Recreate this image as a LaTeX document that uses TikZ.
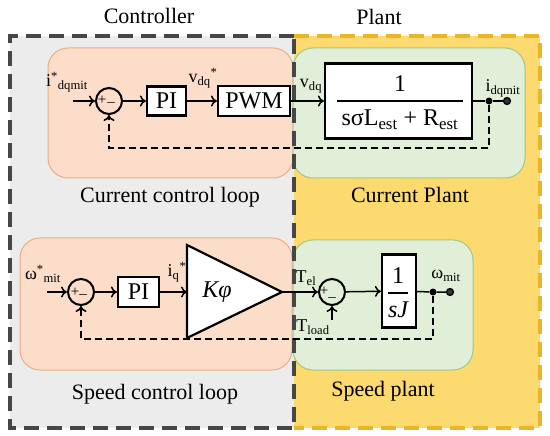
\documentclass[tikz,border=0pt]{standalone}
\usepackage{fontspec}
\setmainfont{Liberation Serif}
\usetikzlibrary{arrows.meta}
\definecolor{gbg}{RGB}{236,236,236}
\definecolor{gbd}{RGB}{70,70,70}
\definecolor{ybg}{RGB}{252,218,112}
\definecolor{ybd}{RGB}{232,182,40}
\definecolor{orbg}{RGB}{251,221,202}
\definecolor{orbd}{RGB}{236,172,132}
\definecolor{grbg}{RGB}{226,239,216}
\definecolor{grbd}{RGB}{160,200,128}
\begin{document}
\begin{tikzpicture}[x=1pt,y=-1pt,
  blk/.style={draw=black, line width=2.2pt, fill=white, inner sep=0pt},
  sumj/.style={draw=black, circle, line width=2pt, minimum size=26pt, inner sep=0pt},
  con/.style={line width=1.5pt, -{To[length=6pt,width=11pt]}},
  wire/.style={line width=1.5pt},
  fb/.style={line width=1.6pt, dash pattern=on 7pt off 4pt},
  regb/.style={line width=3.4pt, dash pattern=on 15pt off 8pt},
  big/.style={font=\fontsize{22}{26}\selectfont},
  box/.style={font=\fontsize{24}{28}\selectfont},
  sml/.style={font=\fontsize{18}{20}\selectfont, inner sep=0pt},
  sgn/.style={font=\fontsize{15}{15}\selectfont, inner sep=0pt},
  dot/.style={circle, fill=black, inner sep=0pt, minimum size=7pt},
  term/.style={circle, draw=black, fill=black!80, line width=1.2pt, inner sep=0pt, minimum size=7pt},
  loop/.style={rounded corners=20pt, line width=1pt}]
\useasboundingbox (0,0) rectangle (550,436);
% regions
\fill[ybg] (294,36) rectangle (540,428);
\fill[gbg] (10,36) rectangle (294,428);
\draw[ybd, regb] (294,36) -- (540,36) -- (540,428) -- (294,428);
% loop boxes
\draw[orbd, fill=orbg, loop] (48,48) rectangle (293,178);
\draw[grbd, fill=grbg, loop] (293,48) rectangle (525,178);
\draw[orbd, fill=orbg, loop] (20,238) rectangle (292,370);
\draw[grbd, fill=grbg, loop] (293,240) rectangle (473,370);
\draw[gbd, regb] (294,36) -- (10,36) -- (10,428) -- (294,428) -- cycle;
% titles
\node[big] (tctrl) at (149,16) {Controller};
\node[big] (tplant) at (379,17) {Plant};
\node[big] (tccl) at (170,197) {Current control loop};
\node[big] (tcp) at (410,195) {Current Plant};
\node[big] (tscl) at (155,394) {Speed control loop};
\node[big] (tsp) at (383,391) {Speed plant};
% ---- current loop ----
\coordinate (in1) at (73,101);
\node[sumj] (s1) at (109,101) {};
\node[sgn] (p1) at (102,100) {+};
\node[sgn] (m1) at (111,105) {–};
\node[blk, box, minimum width=39pt, minimum height=29pt] (pi1) at (166.5,101) {PI};
\node[blk, box, minimum width=72pt, minimum height=30pt] (pwm) at (254,101) {PWM};
\node[blk, minimum width=147pt, minimum height=75pt] (tf) at (398.5,101) {};
\node[box, inner sep=0pt] (num1) at (400,84) {1};
\draw[line width=2pt] (337,101) -- (463,101);
\node[box, inner sep=0pt] (den1) at (400,120) {sσL\textsubscript{est} + R\textsubscript{est}};
\node[dot] (d1) at (489,101) {};
\node[term] (t1) at (507,101) {};
\draw[con] (in1) -- (s1);
\draw[con] (s1) -- (pi1);
\draw[con] (pi1) -- (pwm);
\draw[con] (pwm) -- (tf);
\draw[wire] (tf) -- (d1) -- (t1);
\coordinate (f1a) at (489,148);
\coordinate (f1b) at (109,148);
\draw[fb, -{To[length=6pt,width=11pt]}] (d1) -- (f1a) -- (f1b) -- (s1);
\node[sml] (li1) at (67,82) {i\textsuperscript{*}\textsubscript{dqmit}};
\node[sml] (lv1) at (203,78) {v\textsubscript{dq}\textsuperscript{*}};
\node[sml] (lv2) at (311,86) {v\textsubscript{dq}};
\node[sml] (li2) at (503,88) {i\textsubscript{dqmit}};
% ---- speed loop ----
\coordinate (in2) at (47,292);
\node[sumj] (s2) at (81,292) {};
\node[sgn] (p2) at (75,292) {+};
\node[sgn] (m2) at (83,297) {–};
\node[blk, box, minimum width=41pt, minimum height=30pt] (pi2) at (138.5,292) {PI};
\draw[line width=2.2pt, fill=white] (187,245) -- (282,292) -- (187,338) -- cycle;
\coordinate (kin) at (187,292);
\coordinate (kout) at (282,292);
\node[box, font=\fontsize{24}{28}\selectfont\itshape] (kphi) at (217,292) {Kφ};
\node[sumj] (s3) at (332,292) {};
\node[sgn] (p3) at (324,291) {+};
\node[sgn] (m3) at (332,300) {–};
\node[blk, minimum width=34pt, minimum height=73pt] (sj) at (399,291) {};
\node[box, inner sep=0pt] (num2) at (398,276) {1};
\draw[line width=2pt] (388,293) -- (408,293);
\node[box, inner sep=0pt, font=\fontsize{24}{28}\selectfont\itshape] (den2) at (398,310) {sJ};
\node[dot] (d2) at (433,292) {};
\node[term] (t2) at (450,292) {};
\coordinate (tl) at (332,320);
\draw[con] (in2) -- (s2);
\draw[con] (s2) -- (pi2);
\draw[con] (pi2) -- (kin);
\draw[con] (kout) -- (s3);
\draw[con] (tl) -- (s3);
\draw[con] (s3) -- (sj);
\draw[wire] (sj) -- (d2) -- (t2);
\coordinate (f2a) at (433,339);
\coordinate (f2b) at (81,339);
\draw[fb, -{To[length=6pt,width=11pt]}] (d2) -- (f2a) -- (f2b) -- (s2);
\node[sml] (lw1) at (43,274) {ω\textsuperscript{*}\textsubscript{mit}};
\node[sml] (liq) at (177,272) {i\textsubscript{q}\textsuperscript{*}};
\node[sml] (lte) at (306,278) {T\textsubscript{el}};
\node[sml] (ltl) at (313,327) {T\textsubscript{load}};
\node[sml] (lwm) at (446,276) {ω\textsubscript{mit}};
\end{tikzpicture}
\end{document}
